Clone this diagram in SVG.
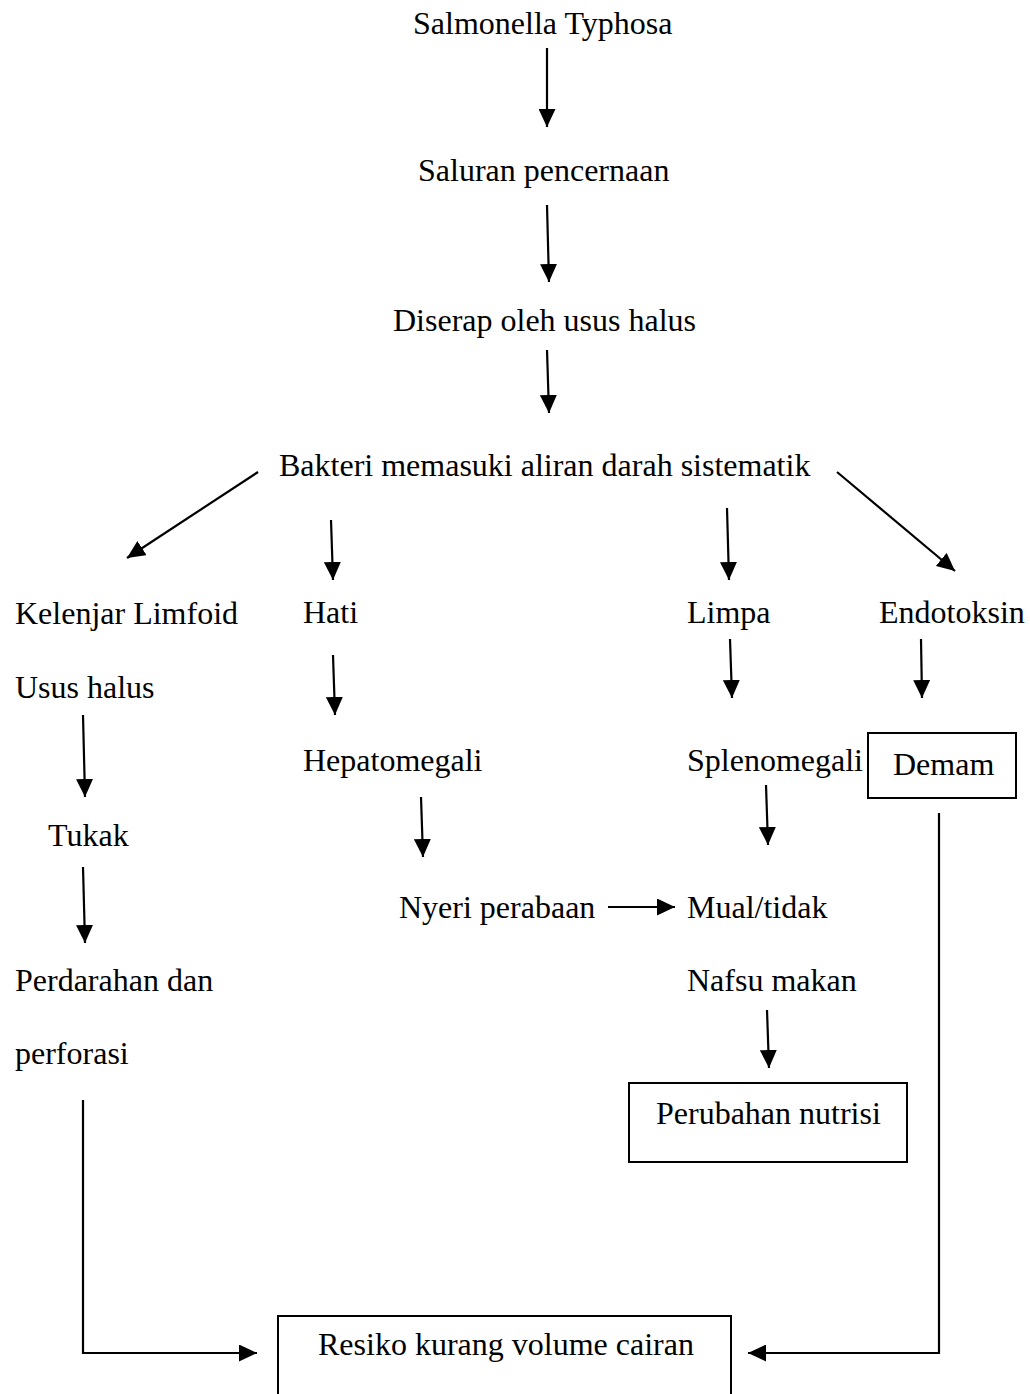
<svg xmlns="http://www.w3.org/2000/svg" width="1030" height="1394" viewBox="0 0 1030 1394">
<style>
text{font-family:"Liberation Serif","Times New Roman",serif;font-size:32px;fill:#000}
.c line,.c path{stroke:#000;stroke-width:2.2;fill:none}
.box{fill:none;stroke:#000;stroke-width:2}
</style>
<defs>
<marker id="ah" markerUnits="userSpaceOnUse" markerWidth="18" markerHeight="17" viewBox="0 0 18 17" refX="18" refY="8.5" orient="auto">
<path d="M0,0 L18,8.5 L0,17 z" fill="#000"/>
</marker>
</defs>
<rect width="1030" height="1394" fill="#fff"/>
<g id="n-salmonella"><text x="413" y="34">Salmonella Typhosa</text></g>
<g id="n-saluran"><text x="418" y="181">Saluran pencernaan</text></g>
<g id="n-diserap"><text x="393" y="331">Diserap oleh usus halus</text></g>
<g id="n-bakteri"><text x="279" y="476">Bakteri memasuki aliran darah sistematik</text></g>
<g id="n-kelenjar"><text x="15" y="624">Kelenjar Limfoid</text></g>
<g id="n-hati"><text x="303" y="623">Hati</text></g>
<g id="n-limpa"><text x="687" y="623">Limpa</text></g>
<g id="n-endotoksin"><text x="879" y="623">Endotoksin</text></g>
<g id="n-usus"><text x="15" y="698">Usus halus</text></g>
<g id="n-hepatomegali"><text x="303" y="771">Hepatomegali</text></g>
<g id="n-splenomegali"><text x="687" y="771">Splenomegali</text></g>
<g id="n-demam"><rect class="box" x="868" y="733" width="148" height="65"/><text x="893" y="775">Demam</text></g>
<g id="n-tukak"><text x="48" y="846">Tukak</text></g>
<g id="n-nyeri"><text x="399" y="918">Nyeri perabaan</text></g>
<g id="n-mual"><text x="687" y="918">Mual/tidak</text></g>
<g id="n-perdarahan"><text x="15" y="991">Perdarahan dan</text><text x="15" y="1064">perforasi</text></g>
<g id="n-nafsu"><text x="687" y="991">Nafsu makan</text></g>
<g id="n-nutrisi"><rect class="box" x="629" y="1083" width="278" height="79"/><text x="656" y="1124">Perubahan nutrisi</text></g>
<g id="n-resiko"><rect class="box" x="278" y="1316" width="453" height="120"/><text x="318" y="1355">Resiko kurang volume cairan</text></g>
<g id="connectors" class="c">
<line x1="547" y1="48" x2="547" y2="127" marker-end="url(#ah)"/>
<line x1="547" y1="205" x2="549" y2="282" marker-end="url(#ah)"/>
<line x1="547" y1="350" x2="549" y2="413" marker-end="url(#ah)"/>
<line x1="258" y1="472" x2="127" y2="558" marker-end="url(#ah)"/>
<line x1="331" y1="520" x2="333" y2="580" marker-end="url(#ah)"/>
<line x1="727" y1="508" x2="729" y2="580" marker-end="url(#ah)"/>
<line x1="837" y1="472" x2="955" y2="571" marker-end="url(#ah)"/>
<line x1="83" y1="715" x2="85" y2="797" marker-end="url(#ah)"/>
<line x1="83" y1="867" x2="85" y2="943" marker-end="url(#ah)"/>
<line x1="333" y1="655" x2="335" y2="715" marker-end="url(#ah)"/>
<line x1="421" y1="797" x2="423" y2="857" marker-end="url(#ah)"/>
<line x1="730" y1="639" x2="732" y2="698" marker-end="url(#ah)"/>
<line x1="921" y1="639" x2="922" y2="698" marker-end="url(#ah)"/>
<line x1="766" y1="785" x2="768" y2="845" marker-end="url(#ah)"/>
<line x1="608" y1="907" x2="675" y2="907" marker-end="url(#ah)"/>
<line x1="767" y1="1010" x2="769" y2="1068" marker-end="url(#ah)"/>
<path d="M83,1100 V1353 H257" marker-end="url(#ah)"/>
<path d="M939,813 V1353 H748" marker-end="url(#ah)"/>
</g>
</svg>
